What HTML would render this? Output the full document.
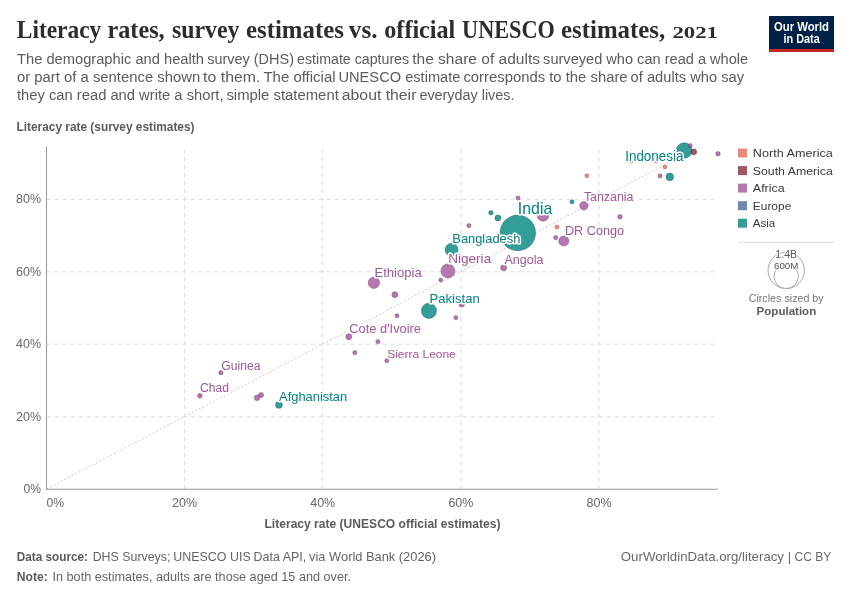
<!DOCTYPE html>
<html><head><meta charset="utf-8"><title>Literacy rates</title>
<style>
html,body{margin:0;padding:0;background:#fff;}
svg{display:block;will-change:transform;font-family:"Liberation Sans",sans-serif;}
.serif{font-family:"Liberation Serif",serif;}
.lab{paint-order:stroke;stroke:#fff;stroke-width:3.2px;stroke-linejoin:round;}
</style></head><body>
<svg width="850" height="600" viewBox="0 0 850 600">
<rect width="850" height="600" fill="#fff"/>

<text class="serif" x="16.8" y="37.6" font-size="24.6" font-weight="bold" fill="#2d2d2d" textLength="84.5" lengthAdjust="spacingAndGlyphs">Literacy</text>
<text class="serif" x="107.5" y="37.6" font-size="24.6" font-weight="bold" fill="#2d2d2d" textLength="57.1" lengthAdjust="spacingAndGlyphs">rates,</text>
<text class="serif" x="172.0" y="37.6" font-size="24.6" font-weight="bold" fill="#2d2d2d" textLength="67.5" lengthAdjust="spacingAndGlyphs">survey</text>
<text class="serif" x="246.1" y="37.6" font-size="24.6" font-weight="bold" fill="#2d2d2d" textLength="97.7" lengthAdjust="spacingAndGlyphs">estimates</text>
<text class="serif" x="348.8" y="37.6" font-size="24.6" font-weight="bold" fill="#2d2d2d" textLength="28.7" lengthAdjust="spacingAndGlyphs">vs.</text>
<text class="serif" x="384.3" y="37.6" font-size="24.6" font-weight="bold" fill="#2d2d2d" textLength="71.0" lengthAdjust="spacingAndGlyphs">official</text>
<text class="serif" x="462.1" y="37.6" font-size="24.6" font-weight="bold" fill="#2d2d2d" textLength="92.7" lengthAdjust="spacingAndGlyphs">UNESCO</text>
<text class="serif" x="561.0" y="37.6" font-size="24.6" font-weight="bold" fill="#2d2d2d" textLength="104.2" lengthAdjust="spacingAndGlyphs">estimates,</text>
<text class="serif" x="672.4" y="37.6" font-size="16.8" font-weight="bold" fill="#2d2d2d" textLength="45.6" lengthAdjust="spacingAndGlyphs">2021</text>
<text x="17" y="63.7" font-size="14" fill="#5b5b5b" textLength="187.0" lengthAdjust="spacingAndGlyphs">The demographic and health</text>
<text x="207.2" y="63.7" font-size="14" fill="#5b5b5b" textLength="86.8" lengthAdjust="spacingAndGlyphs">survey (DHS)</text>
<text x="297.1" y="63.7" font-size="14" fill="#5b5b5b" textLength="112.0" lengthAdjust="spacingAndGlyphs">estimate captures</text>
<text x="412.2" y="63.7" font-size="14" fill="#5b5b5b" textLength="127.8" lengthAdjust="spacingAndGlyphs">the share of adults</text>
<text x="543.1" y="63.7" font-size="14" fill="#5b5b5b" textLength="205.1" lengthAdjust="spacingAndGlyphs">surveyed who can read a whole</text>
<text x="17" y="81.7" font-size="14" fill="#5b5b5b" textLength="183.2" lengthAdjust="spacingAndGlyphs">or part of a sentence shown</text>
<text x="203.1" y="81.7" font-size="14" fill="#5b5b5b" textLength="57.3" lengthAdjust="spacingAndGlyphs">to them.</text>
<text x="263.4" y="81.7" font-size="14" fill="#5b5b5b" textLength="72.2" lengthAdjust="spacingAndGlyphs">The official</text>
<text x="338.5" y="81.7" font-size="14" fill="#5b5b5b" textLength="121.9" lengthAdjust="spacingAndGlyphs">UNESCO estimate</text>
<text x="463.4" y="81.7" font-size="14" fill="#5b5b5b" textLength="164.2" lengthAdjust="spacingAndGlyphs">corresponds to the share</text>
<text x="630.6" y="81.7" font-size="14" fill="#5b5b5b" textLength="113.4" lengthAdjust="spacingAndGlyphs">of adults who say</text>
<text x="17" y="99.6" font-size="14" fill="#5b5b5b" textLength="206.5" lengthAdjust="spacingAndGlyphs">they can read and write a short,</text>
<text x="226.4" y="99.6" font-size="14" fill="#5b5b5b" textLength="112.4" lengthAdjust="spacingAndGlyphs">simple statement</text>
<text x="341.8" y="99.6" font-size="14" fill="#5b5b5b" textLength="74.6" lengthAdjust="spacingAndGlyphs">about their</text>
<text x="419.4" y="99.6" font-size="14" fill="#5b5b5b" textLength="95.1" lengthAdjust="spacingAndGlyphs">everyday lives.</text>
<rect x="769" y="16" width="65" height="35.8" fill="#002147"/><rect x="769" y="49" width="65" height="2.8" fill="#ce261e"/>
<text x="774" y="30.7" font-size="12" font-weight="bold" fill="#fff" textLength="55" lengthAdjust="spacingAndGlyphs">Our World</text>
<text x="783.5" y="42.8" font-size="12" font-weight="bold" fill="#fff" textLength="36.3" lengthAdjust="spacingAndGlyphs">in Data</text>
<text x="16.5" y="131" font-size="12" font-weight="bold" fill="#5b5b5b" textLength="178" lengthAdjust="spacingAndGlyphs">Literacy rate (survey estimates)</text>
<line x1="46.5" x2="718.4" y1="416.7" y2="416.7" stroke="#ddd" stroke-width="1" stroke-dasharray="4,4"/>
<line x1="46.5" x2="718.4" y1="344.2" y2="344.2" stroke="#ddd" stroke-width="1" stroke-dasharray="4,4"/>
<line x1="46.5" x2="718.4" y1="271.8" y2="271.8" stroke="#ddd" stroke-width="1" stroke-dasharray="4,4"/>
<line x1="46.5" x2="718.4" y1="199.3" y2="199.3" stroke="#ddd" stroke-width="1" stroke-dasharray="4,4"/>
<line x1="184.6" x2="184.6" y1="489.1" y2="146.8" stroke="#ddd" stroke-width="1" stroke-dasharray="4,4"/>
<line x1="322.7" x2="322.7" y1="489.1" y2="146.8" stroke="#ddd" stroke-width="1" stroke-dasharray="4,4"/>
<line x1="460.9" x2="460.9" y1="489.1" y2="146.8" stroke="#ddd" stroke-width="1" stroke-dasharray="4,4"/>
<line x1="599.0" x2="599.0" y1="489.1" y2="146.8" stroke="#ddd" stroke-width="1" stroke-dasharray="4,4"/>
<line x1="46.5" y1="489.1" x2="699.1" y2="146.8" stroke="#ccc" stroke-width="1" stroke-dasharray="2,2"/>
<line x1="46.5" x2="46.5" y1="146.4" y2="489.7" stroke="#999" stroke-width="1"/>
<line x1="46" x2="718.2" y1="489.25" y2="489.25" stroke="#999" stroke-width="1"/>
<text x="41" y="493.2" font-size="12.6" fill="#666" text-anchor="end" textLength="17.4" lengthAdjust="spacingAndGlyphs">0%</text>
<text x="41" y="420.8" font-size="12.6" fill="#666" text-anchor="end" textLength="25" lengthAdjust="spacingAndGlyphs">20%</text>
<text x="41" y="348.3" font-size="12.6" fill="#666" text-anchor="end" textLength="25" lengthAdjust="spacingAndGlyphs">40%</text>
<text x="41" y="275.9" font-size="12.6" fill="#666" text-anchor="end" textLength="25" lengthAdjust="spacingAndGlyphs">60%</text>
<text x="41" y="203.4" font-size="12.6" fill="#666" text-anchor="end" textLength="25" lengthAdjust="spacingAndGlyphs">80%</text>
<text x="46.6" y="506.9" font-size="12.6" fill="#666" textLength="17.6" lengthAdjust="spacingAndGlyphs">0%</text>
<text x="184.6" y="506.9" font-size="12.6" fill="#666" text-anchor="middle" textLength="25" lengthAdjust="spacingAndGlyphs">20%</text>
<text x="322.7" y="506.9" font-size="12.6" fill="#666" text-anchor="middle" textLength="25" lengthAdjust="spacingAndGlyphs">40%</text>
<text x="460.9" y="506.9" font-size="12.6" fill="#666" text-anchor="middle" textLength="25" lengthAdjust="spacingAndGlyphs">60%</text>
<text x="599.0" y="506.9" font-size="12.6" fill="#666" text-anchor="middle" textLength="25" lengthAdjust="spacingAndGlyphs">80%</text>
<text x="382.5" y="527.5" font-size="12" font-weight="bold" fill="#5b5b5b" text-anchor="middle" textLength="236" lengthAdjust="spacingAndGlyphs">Literacy rate (UNESCO official estimates)</text>
<circle cx="517.8" cy="232.9" r="17.8" fill="#00847E" fill-opacity="0.8" stroke="#004f4b" stroke-opacity="0.75" stroke-width="0.5"/>
<circle cx="684.2" cy="150.5" r="7.8" fill="#00847E" fill-opacity="0.8" stroke="#004f4b" stroke-opacity="0.75" stroke-width="0.5"/>
<circle cx="428.9" cy="310.8" r="7.6" fill="#00847E" fill-opacity="0.8" stroke="#004f4b" stroke-opacity="0.75" stroke-width="0.5"/>
<circle cx="447.9" cy="270.9" r="7.0" fill="#A2559C" fill-opacity="0.8" stroke="#61335d" stroke-opacity="0.75" stroke-width="0.5"/>
<circle cx="451.6" cy="249.8" r="6.5" fill="#00847E" fill-opacity="0.8" stroke="#004f4b" stroke-opacity="0.75" stroke-width="0.5"/>
<circle cx="543.0" cy="215.3" r="5.9" fill="#A2559C" fill-opacity="0.8" stroke="#61335d" stroke-opacity="0.75" stroke-width="0.5"/>
<circle cx="373.9" cy="282.8" r="5.7" fill="#A2559C" fill-opacity="0.8" stroke="#61335d" stroke-opacity="0.75" stroke-width="0.5"/>
<circle cx="563.8" cy="241.0" r="5.1" fill="#A2559C" fill-opacity="0.8" stroke="#61335d" stroke-opacity="0.75" stroke-width="0.5"/>
<circle cx="583.9" cy="205.8" r="4.2" fill="#A2559C" fill-opacity="0.8" stroke="#61335d" stroke-opacity="0.75" stroke-width="0.5"/>
<circle cx="669.8" cy="176.9" r="3.8" fill="#00847E" fill-opacity="0.8" stroke="#004f4b" stroke-opacity="0.75" stroke-width="0.5"/>
<circle cx="278.9" cy="404.9" r="3.4" fill="#00847E" fill-opacity="0.8" stroke="#004f4b" stroke-opacity="0.75" stroke-width="0.5"/>
<circle cx="497.9" cy="217.9" r="3.0" fill="#00847E" fill-opacity="0.8" stroke="#004f4b" stroke-opacity="0.75" stroke-width="0.5"/>
<circle cx="503.7" cy="267.8" r="3.0" fill="#A2559C" fill-opacity="0.8" stroke="#61335d" stroke-opacity="0.75" stroke-width="0.5"/>
<circle cx="394.8" cy="294.7" r="3.0" fill="#A2559C" fill-opacity="0.8" stroke="#61335d" stroke-opacity="0.75" stroke-width="0.5"/>
<circle cx="461.7" cy="304.0" r="3.0" fill="#A2559C" fill-opacity="0.8" stroke="#61335d" stroke-opacity="0.75" stroke-width="0.5"/>
<circle cx="348.8" cy="336.8" r="3.0" fill="#A2559C" fill-opacity="0.8" stroke="#61335d" stroke-opacity="0.75" stroke-width="0.5"/>
<circle cx="693.8" cy="151.9" r="2.8" fill="#883039" fill-opacity="0.8" stroke="#511c22" stroke-opacity="0.75" stroke-width="0.5"/>
<circle cx="257.1" cy="397.7" r="2.8" fill="#A2559C" fill-opacity="0.8" stroke="#61335d" stroke-opacity="0.75" stroke-width="0.5"/>
<circle cx="261.1" cy="395.0" r="2.5" fill="#A2559C" fill-opacity="0.8" stroke="#61335d" stroke-opacity="0.75" stroke-width="0.5"/>
<circle cx="199.9" cy="395.8" r="2.4" fill="#A2559C" fill-opacity="0.8" stroke="#61335d" stroke-opacity="0.75" stroke-width="0.5"/>
<circle cx="490.9" cy="212.8" r="2.3" fill="#00847E" fill-opacity="0.8" stroke="#004f4b" stroke-opacity="0.75" stroke-width="0.5"/>
<circle cx="718.0" cy="153.8" r="2.3" fill="#A2559C" fill-opacity="0.8" stroke="#61335d" stroke-opacity="0.75" stroke-width="0.5"/>
<circle cx="619.9" cy="216.8" r="2.3" fill="#A2559C" fill-opacity="0.8" stroke="#61335d" stroke-opacity="0.75" stroke-width="0.5"/>
<circle cx="220.9" cy="372.7" r="2.2" fill="#A2559C" fill-opacity="0.8" stroke="#61335d" stroke-opacity="0.75" stroke-width="0.5"/>
<circle cx="690.2" cy="145.6" r="2.1" fill="#A2559C" fill-opacity="0.8" stroke="#61335d" stroke-opacity="0.75" stroke-width="0.5"/>
<circle cx="660.0" cy="175.9" r="2.1" fill="#A2559C" fill-opacity="0.8" stroke="#61335d" stroke-opacity="0.75" stroke-width="0.5"/>
<circle cx="518.0" cy="198.0" r="2.1" fill="#A2559C" fill-opacity="0.8" stroke="#61335d" stroke-opacity="0.75" stroke-width="0.5"/>
<circle cx="468.9" cy="225.7" r="2.1" fill="#A2559C" fill-opacity="0.8" stroke="#61335d" stroke-opacity="0.75" stroke-width="0.5"/>
<circle cx="572.0" cy="201.8" r="2.1" fill="#00847E" fill-opacity="0.8" stroke="#004f4b" stroke-opacity="0.75" stroke-width="0.5"/>
<circle cx="557.0" cy="227.0" r="2.1" fill="#E56E5A" fill-opacity="0.8" stroke="#894236" stroke-opacity="0.75" stroke-width="0.5"/>
<circle cx="555.7" cy="237.6" r="2.1" fill="#A2559C" fill-opacity="0.8" stroke="#61335d" stroke-opacity="0.75" stroke-width="0.5"/>
<circle cx="396.9" cy="315.8" r="2.1" fill="#A2559C" fill-opacity="0.8" stroke="#61335d" stroke-opacity="0.75" stroke-width="0.5"/>
<circle cx="455.8" cy="317.7" r="2.1" fill="#A2559C" fill-opacity="0.8" stroke="#61335d" stroke-opacity="0.75" stroke-width="0.5"/>
<circle cx="377.9" cy="341.7" r="2.1" fill="#A2559C" fill-opacity="0.8" stroke="#61335d" stroke-opacity="0.75" stroke-width="0.5"/>
<circle cx="354.8" cy="352.7" r="2.1" fill="#A2559C" fill-opacity="0.8" stroke="#61335d" stroke-opacity="0.75" stroke-width="0.5"/>
<circle cx="386.8" cy="360.7" r="2.1" fill="#A2559C" fill-opacity="0.8" stroke="#61335d" stroke-opacity="0.75" stroke-width="0.5"/>
<circle cx="664.9" cy="166.9" r="2.0" fill="#E56E5A" fill-opacity="0.8" stroke="#894236" stroke-opacity="0.75" stroke-width="0.5"/>
<circle cx="586.9" cy="175.8" r="2.0" fill="#E56E5A" fill-opacity="0.8" stroke="#894236" stroke-opacity="0.75" stroke-width="0.5"/>
<circle cx="440.8" cy="280.0" r="2.0" fill="#A2559C" fill-opacity="0.8" stroke="#61335d" stroke-opacity="0.75" stroke-width="0.5"/>
<circle cx="631.2" cy="161.1" r="2.0" fill="#E56E5A" fill-opacity="0.8" stroke="#894236" stroke-opacity="0.75" stroke-width="0.5"/>
<circle cx="656.0" cy="161.1" r="2.0" fill="#A2559C" fill-opacity="0.8" stroke="#61335d" stroke-opacity="0.75" stroke-width="0.5"/>
<text class="lab" x="517.8" y="213.9" font-size="16.2" fill="#00847E" textLength="34.6" lengthAdjust="spacingAndGlyphs">India</text>
<text class="lab" x="625.2" y="160.6" font-size="13.8" fill="#00847E" textLength="58.3" lengthAdjust="spacingAndGlyphs">Indonesia</text>
<text class="lab" x="583.9" y="200.9" font-size="12.2" fill="#A2559C" textLength="49.6" lengthAdjust="spacingAndGlyphs">Tanzania</text>
<text class="lab" x="564.9" y="235.0" font-size="13.0" fill="#A2559C" textLength="59.2" lengthAdjust="spacingAndGlyphs">DR Congo</text>
<text class="lab" x="504.5" y="264.3" font-size="12.2" fill="#A2559C" textLength="38.9" lengthAdjust="spacingAndGlyphs">Angola</text>
<text class="lab" x="452.3" y="242.6" font-size="13.0" fill="#00847E" textLength="68.0" lengthAdjust="spacingAndGlyphs">Bangladesh</text>
<text class="lab" x="448.2" y="262.7" font-size="13.3" fill="#A2559C" textLength="43.0" lengthAdjust="spacingAndGlyphs">Nigeria</text>
<text class="lab" x="374.5" y="276.5" font-size="13.0" fill="#A2559C" textLength="47.2" lengthAdjust="spacingAndGlyphs">Ethiopia</text>
<text class="lab" x="429.6" y="302.6" font-size="13.0" fill="#00847E" textLength="50.1" lengthAdjust="spacingAndGlyphs">Pakistan</text>
<text class="lab" x="349.3" y="333.4" font-size="12.3" fill="#A2559C" textLength="71.7" lengthAdjust="spacingAndGlyphs">Cote d'Ivoire</text>
<text class="lab" x="387.2" y="357.8" font-size="11.8" fill="#A2559C" textLength="68.6" lengthAdjust="spacingAndGlyphs">Sierra Leone</text>
<text class="lab" x="221.3" y="369.8" font-size="12.0" fill="#A2559C" textLength="39.1" lengthAdjust="spacingAndGlyphs">Guinea</text>
<text class="lab" x="200.1" y="392.2" font-size="12.0" fill="#A2559C" textLength="29.0" lengthAdjust="spacingAndGlyphs">Chad</text>
<text class="lab" x="279.1" y="401.1" font-size="12.6" fill="#00847E" textLength="68.0" lengthAdjust="spacingAndGlyphs">Afghanistan</text>
<rect x="738" y="148.5" width="9" height="9" fill="#E56E5A" fill-opacity="0.8"/>
<text x="752.8" y="157.2" font-size="11.7" fill="#3a3a3a" textLength="80.0" lengthAdjust="spacingAndGlyphs">North America</text>
<rect x="738" y="166.1" width="9" height="9" fill="#883039" fill-opacity="0.8"/>
<text x="752.8" y="174.8" font-size="11.7" fill="#3a3a3a" textLength="80.0" lengthAdjust="spacingAndGlyphs">South America</text>
<rect x="738" y="183.6" width="9" height="9" fill="#A2559C" fill-opacity="0.8"/>
<text x="752.8" y="192.3" font-size="11.7" fill="#3a3a3a" textLength="32.0" lengthAdjust="spacingAndGlyphs">Africa</text>
<rect x="738" y="201.2" width="9" height="9" fill="#4C6A9C" fill-opacity="0.8"/>
<text x="752.8" y="209.8" font-size="11.7" fill="#3a3a3a" textLength="38.5" lengthAdjust="spacingAndGlyphs">Europe</text>
<rect x="738" y="218.7" width="9" height="9" fill="#00847E" fill-opacity="0.8"/>
<text x="752.8" y="227.4" font-size="11.7" fill="#3a3a3a" textLength="22.5" lengthAdjust="spacingAndGlyphs">Asia</text>
<line x1="738.3" x2="833.8" y1="242.3" y2="242.3" stroke="#ddd" stroke-width="1"/>
<circle cx="786.2" cy="270.4" r="18.2" fill="none" stroke="#aaa" stroke-width="1"/>
<circle cx="786.2" cy="276.4" r="12.2" fill="none" stroke="#aaa" stroke-width="1"/>
<text class="lab" x="786.2" y="257.5" font-size="10" fill="#555" text-anchor="middle" textLength="21.7" lengthAdjust="spacingAndGlyphs" style="stroke-width:2px">1.4B</text>
<text class="lab" x="786.2" y="269.1" font-size="9.8" fill="#555" text-anchor="middle" textLength="24.5" lengthAdjust="spacingAndGlyphs" style="stroke-width:1.6px">600M</text>
<text x="786.2" y="301.7" font-size="11.5" fill="#777" text-anchor="middle" textLength="75" lengthAdjust="spacingAndGlyphs">Circles sized by</text>
<text x="786.4" y="315.3" font-size="11.5" font-weight="bold" fill="#5b5b5b" text-anchor="middle" textLength="59.6" lengthAdjust="spacingAndGlyphs">Population</text>
<text x="16.8" y="560.7" font-size="12.8" font-weight="bold" fill="#5b5b5b" textLength="71.2" lengthAdjust="spacingAndGlyphs">Data source:</text>
<text x="92.7" y="560.7" font-size="12.8" fill="#646464" textLength="77.7" lengthAdjust="spacingAndGlyphs">DHS Surveys;</text>
<text x="173.3" y="560.7" font-size="12.8" fill="#646464" textLength="77.4" lengthAdjust="spacingAndGlyphs">UNESCO UIS</text>
<text x="253.6" y="560.7" font-size="12.8" fill="#646464" textLength="52.6" lengthAdjust="spacingAndGlyphs">Data API,</text>
<text x="309.1" y="560.7" font-size="12.8" fill="#646464" textLength="126.9" lengthAdjust="spacingAndGlyphs">via World Bank (2026)</text>
<text x="16.8" y="580.8" font-size="12.8" font-weight="bold" fill="#5b5b5b" textLength="31.1" lengthAdjust="spacingAndGlyphs">Note:</text>
<text x="52.5" y="580.8" font-size="12.8" fill="#646464" textLength="298.5" lengthAdjust="spacingAndGlyphs">In both estimates, adults are those aged 15 and over.</text>
<text x="620.8" y="560.7" font-size="12.8" fill="#696969" textLength="163.2" lengthAdjust="spacingAndGlyphs">OurWorldinData.org/literacy</text>
<text x="787.8" y="560.7" font-size="12.8" fill="#696969">|</text>
<text x="794.6" y="560.7" font-size="12.8" fill="#696969" textLength="36.6" lengthAdjust="spacingAndGlyphs">CC BY</text>
</svg></body></html>
